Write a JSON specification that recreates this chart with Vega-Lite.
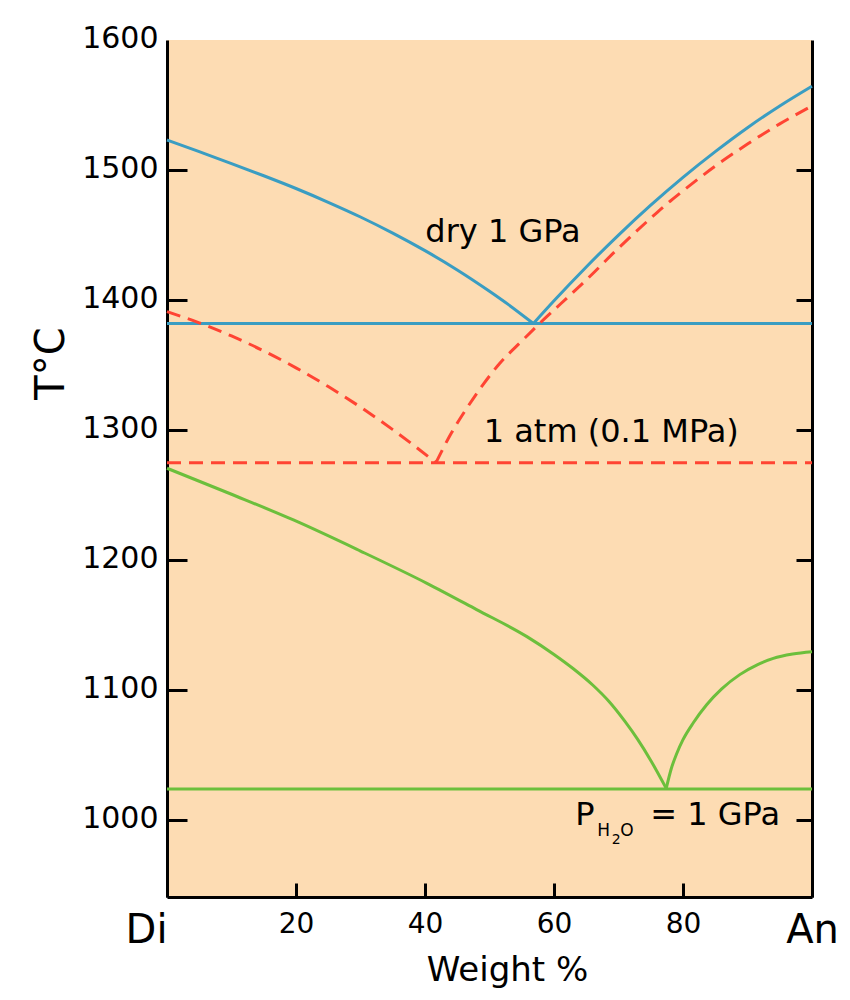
{
  "$schema": "https://vega.github.io/schema/vega-lite/v6.json",
  "width": 645,
  "height": 857,
  "autosize": {"type": "none"},
  "padding": {"left": 167, "top": 40, "right": 38, "bottom": 103},
  "background": "#ffffff",
  "config": {
    "font": "DejaVu Sans",
    "view": {"fill": "#fddcb3", "stroke": null},
    "axis": {"grid": false, "domainColor": "#000000", "domainWidth": 3, "tickColor": "#000000", "tickWidth": 3, "labelColor": "#000000", "titleColor": "#000000", "labelFont": "DejaVu Sans", "titleFont": "DejaVu Sans", "titleFontWeight": "normal"}
  },
  "datasets": {
    "curves": [
      {"s": "wet", "seg": "L", "pct": 0, "temp": 1270.7},
      {"s": "wet", "seg": "L", "pct": 10, "temp": 1250.7},
      {"s": "wet", "seg": "L", "pct": 19.6, "temp": 1230.9},
      {"s": "wet", "seg": "L", "pct": 30, "temp": 1207.0},
      {"s": "wet", "seg": "L", "pct": 40.3, "temp": 1182.2},
      {"s": "wet", "seg": "L", "pct": 48, "temp": 1162.0},
      {"s": "wet", "seg": "L", "pct": 55.8, "temp": 1141.2},
      {"s": "wet", "seg": "L", "pct": 60, "temp": 1127.5},
      {"s": "wet", "seg": "L", "pct": 63, "temp": 1116.5},
      {"s": "wet", "seg": "L", "pct": 66, "temp": 1104.0},
      {"s": "wet", "seg": "L", "pct": 68.5, "temp": 1091.5},
      {"s": "wet", "seg": "L", "pct": 71, "temp": 1076.0},
      {"s": "wet", "seg": "L", "pct": 73, "temp": 1062.0},
      {"s": "wet", "seg": "L", "pct": 75, "temp": 1046.0},
      {"s": "wet", "seg": "L", "pct": 77.4, "temp": 1024.5},
      {"s": "wet", "seg": "R", "pct": 77.4, "temp": 1024.5},
      {"s": "wet", "seg": "R", "pct": 78.2, "temp": 1040.0},
      {"s": "wet", "seg": "R", "pct": 79.0, "temp": 1051.0},
      {"s": "wet", "seg": "R", "pct": 80.0, "temp": 1062.0},
      {"s": "wet", "seg": "R", "pct": 81.6, "temp": 1075.0},
      {"s": "wet", "seg": "R", "pct": 83.7, "temp": 1089.0},
      {"s": "wet", "seg": "R", "pct": 86.0, "temp": 1101.0},
      {"s": "wet", "seg": "R", "pct": 88.8, "temp": 1112.0},
      {"s": "wet", "seg": "R", "pct": 91.5, "temp": 1119.5},
      {"s": "wet", "seg": "R", "pct": 94.0, "temp": 1124.5},
      {"s": "wet", "seg": "R", "pct": 97.0, "temp": 1127.8},
      {"s": "wet", "seg": "R", "pct": 100, "temp": 1129.6},
      {"s": "wet", "seg": "H", "pct": 0, "temp": 1024},
      {"s": "wet", "seg": "H", "pct": 100, "temp": 1024},
      {"s": "dry", "seg": "L", "pct": 0, "temp": 1523.1},
      {"s": "dry", "seg": "L", "pct": 5, "temp": 1514.1},
      {"s": "dry", "seg": "L", "pct": 10, "temp": 1505.0},
      {"s": "dry", "seg": "L", "pct": 15, "temp": 1495.6},
      {"s": "dry", "seg": "L", "pct": 20, "temp": 1485.8},
      {"s": "dry", "seg": "L", "pct": 25, "temp": 1475.2},
      {"s": "dry", "seg": "L", "pct": 30, "temp": 1463.9},
      {"s": "dry", "seg": "L", "pct": 35, "temp": 1451.5},
      {"s": "dry", "seg": "L", "pct": 40, "temp": 1438.0},
      {"s": "dry", "seg": "L", "pct": 45, "temp": 1423.2},
      {"s": "dry", "seg": "L", "pct": 50, "temp": 1406.8},
      {"s": "dry", "seg": "L", "pct": 53, "temp": 1396.3},
      {"s": "dry", "seg": "L", "pct": 56.8, "temp": 1382.0},
      {"s": "dry", "seg": "R", "pct": 56.8, "temp": 1382.0},
      {"s": "dry", "seg": "R", "pct": 60, "temp": 1399.5},
      {"s": "dry", "seg": "R", "pct": 65, "temp": 1425.5},
      {"s": "dry", "seg": "R", "pct": 70, "temp": 1450.0},
      {"s": "dry", "seg": "R", "pct": 75, "temp": 1473.0},
      {"s": "dry", "seg": "R", "pct": 80, "temp": 1494.4},
      {"s": "dry", "seg": "R", "pct": 85, "temp": 1514.2},
      {"s": "dry", "seg": "R", "pct": 90, "temp": 1532.6},
      {"s": "dry", "seg": "R", "pct": 95, "temp": 1549.3},
      {"s": "dry", "seg": "R", "pct": 100, "temp": 1564.5},
      {"s": "dry", "seg": "H", "pct": 0, "temp": 1382.0},
      {"s": "dry", "seg": "H", "pct": 100, "temp": 1382.0},
      {"s": "atm", "seg": "L", "pct": 0, "temp": 1391.1},
      {"s": "atm", "seg": "L", "pct": 5, "temp": 1382.5},
      {"s": "atm", "seg": "L", "pct": 10, "temp": 1372.4},
      {"s": "atm", "seg": "L", "pct": 15, "temp": 1360.9},
      {"s": "atm", "seg": "L", "pct": 20, "temp": 1347.9},
      {"s": "atm", "seg": "L", "pct": 25, "temp": 1333.5},
      {"s": "atm", "seg": "L", "pct": 30, "temp": 1317.7},
      {"s": "atm", "seg": "L", "pct": 35, "temp": 1300.4},
      {"s": "atm", "seg": "L", "pct": 38, "temp": 1289.3},
      {"s": "atm", "seg": "L", "pct": 41.7, "temp": 1275.0},
      {"s": "atm", "seg": "R", "pct": 41.7, "temp": 1275.0},
      {"s": "atm", "seg": "R", "pct": 44, "temp": 1297.0},
      {"s": "atm", "seg": "R", "pct": 46.5, "temp": 1317.0},
      {"s": "atm", "seg": "R", "pct": 49, "temp": 1335.0},
      {"s": "atm", "seg": "R", "pct": 51.6, "temp": 1351.4},
      {"s": "atm", "seg": "R", "pct": 55, "temp": 1368.5},
      {"s": "atm", "seg": "R", "pct": 57.8, "temp": 1382.2},
      {"s": "atm", "seg": "R", "pct": 61, "temp": 1397.0},
      {"s": "atm", "seg": "R", "pct": 65, "temp": 1415.5},
      {"s": "atm", "seg": "R", "pct": 70, "temp": 1440.0},
      {"s": "atm", "seg": "R", "pct": 75, "temp": 1463.0},
      {"s": "atm", "seg": "R", "pct": 78, "temp": 1476.0},
      {"s": "atm", "seg": "R", "pct": 80, "temp": 1484.0},
      {"s": "atm", "seg": "R", "pct": 85, "temp": 1503.0},
      {"s": "atm", "seg": "R", "pct": 90, "temp": 1520.0},
      {"s": "atm", "seg": "R", "pct": 95, "temp": 1535.5},
      {"s": "atm", "seg": "R", "pct": 100, "temp": 1549.3},
      {"s": "atm", "seg": "H", "pct": 0, "temp": 1275.0},
      {"s": "atm", "seg": "H", "pct": 100, "temp": 1275.0}
    ]
  },
  "encoding": {
    "x": {
      "field": "pct", "type": "quantitative",
      "scale": {"domain": [0, 100], "nice": false, "zero": false},
      "axis": {
        "orient": "bottom",
        "values": [0, 20, 40, 60, 80, 100],
        "labelExpr": "datum.value == 0 ? 'Di' : datum.value == 100 ? 'An' : datum.label",
        "labelFontSize": {"expr": "datum.value == 0 || datum.value == 100 ? 40 : 28"},
        "labelAlign": {"expr": "datum.value == 0 ? 'right' : 'center'"},
        "labelBaseline": "top",
        "labelFlush": false,
        "labelOverlap": false,
        "tickSize": -14,
        "labelPadding": 27,
        "title": "Weight %",
        "titleFontSize": 34,
        "titleX": 340,
        "titleY": 83,
        "titleAlign": "center",
        "titleBaseline": "alphabetic"
      }
    },
    "y": {
      "field": "temp", "type": "quantitative",
      "scale": {"domain": [941, 1600], "nice": false, "zero": false},
      "axis": null
    }
  },
  "layer": [
    {
      "data": {"name": "curves"},
      "transform": [{"filter": "datum.s == 'wet'"}],
      "mark": {"type": "line", "color": "#6cbf3c", "strokeWidth": 3, "interpolate": "monotone"},
      "encoding": {
        "detail": {"field": "seg"},
        "y": {
          "field": "temp", "type": "quantitative",
          "scale": {"domain": [941, 1600], "nice": false, "zero": false},
          "axis": {
            "orient": "left",
            "values": [1000, 1100, 1200, 1300, 1400, 1500, 1600],
            "format": "d",
            "labelFontSize": 30,
            "labelPadding": 29,
            "labelOffset": -2,
            "tickSize": -20,
            "tickColor": {"expr": "datum.value == 1600 ? 'transparent' : '#000000'"},
            "title": "T°C",
            "titleFontSize": 40,
            "titleAngle": 270,
            "titleX": -104,
            "titleY": 323,
            "titleAlign": "center",
            "titleBaseline": "alphabetic"
          }
        }
      }
    },
    {
      "data": {"name": "curves"},
      "transform": [{"filter": "datum.s == 'dry'"}],
      "mark": {"type": "line", "color": "#3a9dc2", "strokeWidth": 3, "interpolate": "monotone"},
      "encoding": {
        "detail": {"field": "seg"},
        "y": {
          "field": "temp", "type": "quantitative",
          "scale": {"domain": [941, 1600], "nice": false, "zero": false},
          "axis": {
            "orient": "right",
            "values": [1000, 1100, 1200, 1300, 1400, 1500],
            "labels": false,
            "tickSize": -16,
            "title": null
          }
        }
      }
    },
    {
      "data": {"name": "curves"},
      "transform": [{"filter": "datum.s == 'atm'"}],
      "mark": {"type": "line", "color": "#ff4433", "strokeWidth": 3, "strokeDash": [14, 8], "interpolate": "monotone"},
      "encoding": {"detail": {"field": "seg"}}
    },
    {
      "data": {"values": [{"label": "dry 1 GPa", "pct": 40.05, "temp": 1444.7}, {"label": "1 atm (0.1 MPa)", "pct": 49.1, "temp": 1291.1}, {"label": "P", "pct": 63.3, "temp": 996.4}, {"label": "= 1 GPa", "pct": 74.93, "temp": 996.4}]},
      "mark": {"type": "text", "align": "left", "baseline": "alphabetic", "fontSize": 32, "color": "#000000"},
      "encoding": {"text": {"field": "label"}}
    },
    {
      "data": {"values": [{"label": "H", "pct": 66.71, "temp": 987.9}, {"label": "O", "pct": 70.28, "temp": 987.9}]},
      "mark": {"type": "text", "align": "left", "baseline": "alphabetic", "fontSize": 17, "color": "#000000"},
      "encoding": {"text": {"field": "label"}}
    },
    {
      "data": {"values": [{"label": "2", "pct": 68.96, "temp": 981.8}]},
      "mark": {"type": "text", "align": "left", "baseline": "alphabetic", "fontSize": 14, "color": "#000000"},
      "encoding": {"text": {"field": "label"}}
    }
  ],
  "resolve": {"axis": {"y": "independent"}}
}
